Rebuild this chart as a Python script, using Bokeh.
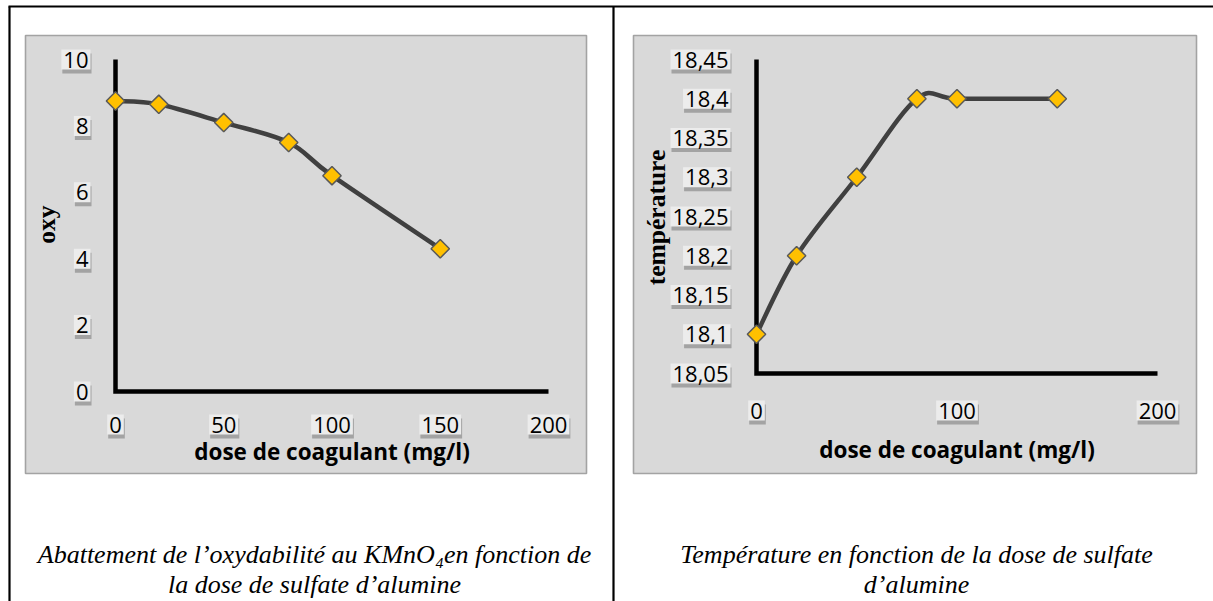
import math

from bokeh.core.properties import value
from bokeh.embed import file_html
from bokeh.models import Range1d
from bokeh.plotting import figure
from bokeh.resources import INLINE

# ---------------------------------------------------------------- data
dose = [0, 20, 50, 80, 100, 150]                      # mg/l
oxy = [8.75, 8.65, 8.1, 7.5, 6.5, 4.3]                # oxydabilité KMnO4
temperature = [18.1, 18.2, 18.3, 18.4, 18.4, 18.4]    # °C

oxy_xticks = [0, 50, 100, 150, 200]
oxy_xlabels = ["0", "50", "100", "150", "200"]
oxy_yticks = [0, 2, 4, 6, 8, 10]
oxy_ylabels = ["0", "2", "4", "6", "8", "10"]

temp_xticks = [0, 100, 200]
temp_xlabels = ["0", "100", "200"]
temp_yticks = [18.05, 18.10, 18.15, 18.20, 18.25, 18.30, 18.35, 18.40, 18.45]
temp_ylabels = ["18,05", "18,1", "18,15", "18,2", "18,25", "18,3", "18,35", "18,4", "18,45"]

x_title = "dose de coagulant (mg/l)"
captions_left = ["Abattement de l\u2019oxydabilit\u00e9 au KMnO\u2084en fonction de",
                 "la dose de sulfate d\u2019alumine"]
captions_right = ["Temp\u00e9rature en fonction de la dose de sulfate",
                  "d\u2019alumine"]

# ---------------------------------------------------------------- page
W, H = 1213, 601
SANS = value("Open Sans")
SERIF = value("Liberation Serif")
PANEL_FILL = "#d9d9d9"
LINE_COLOR = "#404040"
MARKER_FILL = "#ffc000"
MARKER_LINE = "#595959"

p = figure(width=W, height=H, x_range=Range1d(0, W), y_range=Range1d(H, 0),
           min_border=0, toolbar_location=None, output_backend="svg",
           x_axis_location=None, y_axis_location=None)
p.grid.visible = False
p.outline_line_color = None
p.background_fill_color = "white"
p.border_fill_color = "white"


def span_range(v_a, px_a, v_b, px_b, size, vertical=False):
    """Range whose values v_a / v_b fall on the page pixels px_a / px_b."""
    if vertical:
        k = (v_b - v_a) / (px_a - px_b)
        end = v_a + px_a * k
        return Range1d(start=end - size * k, end=end)
    k = (v_b - v_a) / (px_b - px_a)
    start = v_a - px_a * k
    return Range1d(start=start, end=start + size * k)


p.extra_x_ranges = {
    "dose_l": span_range(0, 115, 200, 548, W),
    "dose_r": span_range(0, 756, 200, 1157, W),
}
p.extra_y_ranges = {
    "oxy": span_range(0, 391, 10, 59, H, vertical=True),
    "temp": span_range(18.05, 373, 18.45, 59, H, vertical=True),
}

# table rules of the page
p.segment(x0=[8, 9, 613], y0=[6, 6, 6], x1=[W, 9, 613], y1=[6, H, H],
          line_color="black", line_width=2.2)

# grey chart panels
p.quad(left=[25, 633], right=[586, 1196], top=[35, 35], bottom=[473, 473],
       fill_color=PANEL_FILL, line_color="#a3a3a3", line_width=1.6)


def catmull_rom(xs, ys):
    """Bezier control points for a smoothed line through the points."""
    px = [xs[0]] + list(xs) + [xs[-1]]
    py = [ys[0]] + list(ys) + [ys[-1]]
    seg = dict(x0=[], y0=[], x1=[], y1=[], cx0=[], cy0=[], cx1=[], cy1=[])
    for i in range(len(xs) - 1):
        seg["x0"].append(px[i + 1])
        seg["y0"].append(py[i + 1])
        seg["x1"].append(px[i + 2])
        seg["y1"].append(py[i + 2])
        seg["cx0"].append(px[i + 1] + (px[i + 2] - px[i]) / 6)
        seg["cy0"].append(py[i + 1] + (py[i + 2] - py[i]) / 6)
        seg["cx1"].append(px[i + 2] - (px[i + 3] - px[i + 1]) / 6)
        seg["cy1"].append(py[i + 2] - (py[i + 3] - py[i + 1]) / 6)
    return seg


def boxed_labels(xs, ys, labels, xr, yr, **kw):
    """Tick labels on a light card with a soft shadow underneath."""
    common = dict(x=xs, y=ys, text=labels, x_range_name=xr, y_range_name=yr,
                  text_font=SANS, text_font_size="22px", padding=2)
    dx = kw.pop("x_offset", 0)
    dy = kw.pop("y_offset", 0)
    p.text(**common, **kw, x_offset=dx + 1, y_offset=dy + 4, text_alpha=0,
           background_fill_color="#6e6e6e", background_fill_alpha=0.5)
    p.text(**common, **kw, x_offset=dx, y_offset=dy, text_color="black",
           background_fill_color="#ececec")


def draw_chart(xr, yr, xs, ys, xticks, xlabels, yticks, ylabels,
               ylab_dx, xlab_dy, title_dy):
    # axis lines
    p.line([xticks[0], xticks[0], xticks[-1]], [yticks[-1], yticks[0], yticks[0]],
           x_range_name=xr, y_range_name=yr, line_color="black", line_width=4.5,
           line_join="miter")
    # tick labels
    boxed_labels([xticks[0]] * len(yticks), yticks, ylabels, xr, yr,
                 text_align="right", text_baseline="middle", x_offset=ylab_dx)
    boxed_labels(xticks, [yticks[0]] * len(xticks), xlabels, xr, yr,
                 text_align="center", text_baseline="middle", y_offset=xlab_dy)
    # x axis title
    p.text(x=[(xticks[0] + xticks[-1]) / 2], y=[yticks[0]], text=[x_title],
           x_range_name=xr, y_range_name=yr, y_offset=title_dy,
           text_font=SANS, text_font_style="bold", text_font_size="22.5px",
           text_align="center", text_baseline="middle", text_color="black")
    # smoothed series and markers
    p.bezier(**catmull_rom(xs, ys), x_range_name=xr, y_range_name=yr,
             line_color=LINE_COLOR, line_width=4.5, line_cap="round")
    p.scatter(xs, ys, x_range_name=xr, y_range_name=yr, marker="square",
              angle=math.pi / 4, size=13, fill_color=MARKER_FILL,
              line_color=MARKER_LINE, line_width=1.5)


draw_chart("dose_l", "oxy", dose, oxy, oxy_xticks, oxy_xlabels,
           oxy_yticks, oxy_ylabels, ylab_dx=-25, xlab_dy=33, title_dy=60)
draw_chart("dose_r", "temp", dose, temperature, temp_xticks, temp_xlabels,
           temp_yticks, temp_ylabels, ylab_dx=-26, xlab_dy=37, title_dy=76)

# vertical y axis titles
p.text(x=[46, 656], y=[224, 217], text=["oxy", "temp\u00e9rature"], angle=math.pi / 2,
       text_font=SERIF, text_font_style="bold", text_font_size="25.5px",
       text_align="center", text_baseline="middle", text_color="black")

# figure captions
p.text(x=[314, 314, 916, 916], y=[554, 584, 554, 584],
       text=captions_left + captions_right,
       text_font=SERIF, text_font_style="italic", text_font_size="26px",
       text_align="center", text_baseline="middle", text_color="black")

open("out.html", "w").write(file_html(p, INLINE))
